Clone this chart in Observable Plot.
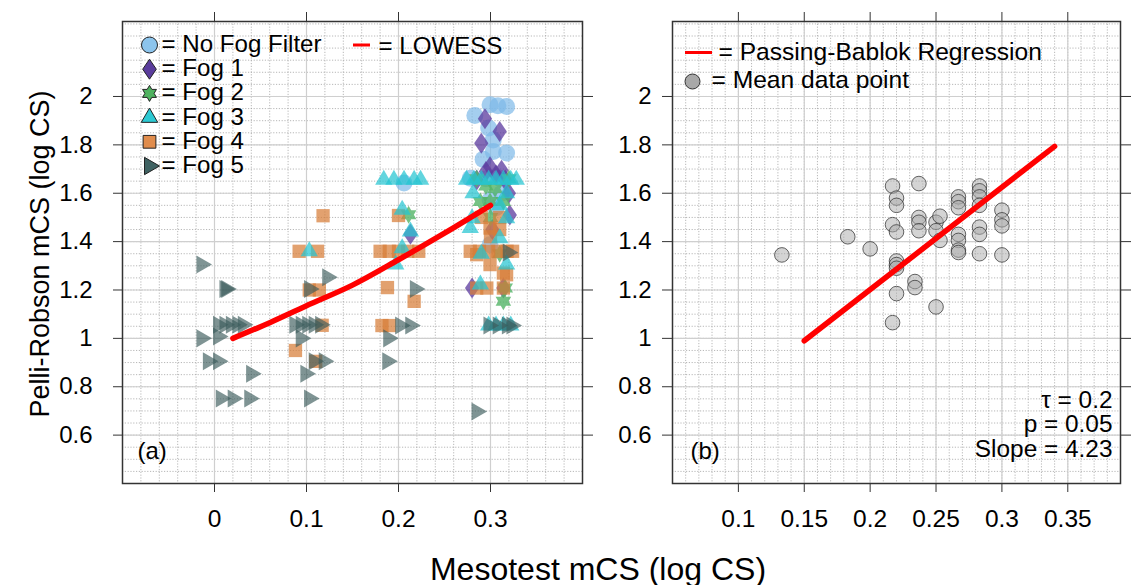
<!DOCTYPE html>
<html>
<head>
<meta charset="utf-8">
<script src="https://cdn.jsdelivr.net/npm/d3@7"></script>
<script src="https://cdn.jsdelivr.net/npm/@observablehq/plot@0.6"></script>
<style>
  html, body { margin: 0; padding: 0; background: #fff; }
  #chart { position: relative; width: 1142px; height: 585px; font-family: 'Liberation Sans', Arial, Helvetica, sans-serif; }
  #chart svg { position: absolute; top: 0; }
  .title { position: absolute; color: #000; white-space: nowrap; }
</style>
</head>
<body>
<div id="chart"></div>
<script>
// ---------------- DATA ----------------
// Panel (a): [Mesotest mCS, Pelli-Robson mCS] per fog condition
const noFog = [[0.2995,1.966],[0.3175,1.959],[0.308,1.962],[0.283,1.921],[0.298,1.87],[0.303,1.82],[0.3175,1.766],
  [0.303,1.773],[0.292,1.74],[0.278,1.662],[0.31,1.662],[0.295,1.66],[0.2995,1.573],[0.306,1.54],[0.2995,1.387],[0.312,1.6],[0.206,1.642]];
const fog1 = [[0.294,1.908],[0.31,1.855],[0.29,1.807],[0.2995,1.71],[0.306,1.675],[0.295,1.69],[0.312,1.695],[0.213,1.43],
  [0.321,1.51],[0.28,1.208],[0.314,1.208],[0.32,1.6],[0.302,1.45],[0.285,1.655],[0.316,1.655]];
const fog2 = [[0.211,1.511],[0.2995,1.566],[0.289,1.566],[0.314,1.566],[0.314,1.153],[0.316,1.208],[0.305,1.62],
  [0.285,1.66],[0.32,1.66],[0.3,1.5],[0.31,1.35],[0.295,1.63]];
const fog3 = [[0.184,1.656],[0.195,1.656],[0.206,1.656],[0.217,1.656],[0.224,1.656],[0.204,1.532],[0.213,1.442],[0.204,1.373],
  [0.197,1.305],[0.103,1.36],[0.274,1.656],[0.282,1.656],[0.29,1.656],[0.298,1.656],[0.306,1.656],[0.314,1.656],[0.322,1.656],
  [0.328,1.656],[0.281,1.6],[0.3175,1.6],[0.28,1.497],[0.3175,1.497],[0.278,1.456],[0.31,1.414],[0.3175,1.305],[0.289,1.223],
  [0.298,1.053],[0.306,1.053],[0.314,1.053],[0.322,1.053],[0.31,1.55],[0.29,1.35]];
const fog4 = [[0.118,1.507],[0.092,1.36],[0.112,1.36],[0.103,1.2],[0.114,1.2],[0.117,1.054],[0.088,0.95],[0.11,0.905],
  [0.2,1.508],[0.18,1.36],[0.19,1.36],[0.2,1.36],[0.21,1.36],[0.222,1.36],[0.188,1.21],[0.217,1.153],[0.182,1.053],[0.19,1.053],
  [0.278,1.36],[0.288,1.36],[0.298,1.36],[0.308,1.36],[0.318,1.36],[0.324,1.36],[0.2995,1.456],[0.29,1.5],[0.31,1.5],
  [0.285,1.208],[0.296,1.208],[0.314,1.208],[0.2995,1.305],[0.314,1.27],[0.3175,1.263],[0.285,1.346],[0.3,1.42],[0.31,1.45]];
const fog5 = [[-0.014,1.305],[0.011,1.204],[0.013,1.204],[0.004,1.056],[0.011,1.056],[0.018,1.056],[0.025,1.056],[0.031,1.056],
  [-0.014,1.0],[0.004,1.008],[-0.007,0.905],[0.004,0.905],[0.04,0.854],[0.007,0.751],[0.02,0.751],[0.038,0.751],
  [0.1227,1.253],[0.103,1.204],[0.087,1.056],[0.094,1.056],[0.101,1.056],[0.108,1.056],[0.115,1.056],[0.094,1.0],
  [0.108,0.905],[0.119,0.905],[0.099,0.854],[0.103,0.751],
  [0.218,1.204],[0.202,1.053],[0.213,1.053],[0.189,1.0],[0.188,0.905],
  [0.285,0.698],[0.298,1.053],[0.308,1.053],[0.318,1.053],[0.323,1.053],[0.319,1.355]];
const lowessX = [0.02, 0.06, 0.1, 0.15, 0.2, 0.25, 0.3];
const lowessY = [1.0, 1.065, 1.135, 1.22, 1.325, 1.435, 1.55];

// Panel (b): mean data points
const meanX = [0.133,0.183,0.200,0.217,0.220,0.220,0.217,0.220,0.220,0.220,0.220,0.220,0.217,0.234,0.234,0.237,0.237,0.237,0.237,
  0.250,0.250,0.253,0.253,0.250,0.267,0.267,0.267,0.267,0.267,0.267,0.267,0.283,0.283,0.283,0.283,0.283,0.283,0.283,0.300,0.300,0.300,0.300];
const meanY = [1.345,1.42,1.37,1.63,1.58,1.55,1.47,1.44,1.32,1.305,1.29,1.185,1.065,1.235,1.21,1.64,1.50,1.48,1.445,
  1.48,1.445,1.505,1.405,1.13,1.585,1.565,1.54,1.43,1.405,1.365,1.355,1.63,1.61,1.585,1.55,1.46,1.43,1.35,1.53,1.49,1.465,1.345];
const pbX = [0.15, 0.34];
const pbY = [0.99, 1.794];

const xTicksA = [0, 0.1, 0.2, 0.3];
const xTicksB = [0.1, 0.15, 0.2, 0.25, 0.3, 0.35];
const yTicks = [0.6, 0.8, 1, 1.2, 1.4, 1.6, 1.8, 2];
const legendA = ["= No Fog Filter", "= Fog 1", "= Fog 2", "= Fog 3", "= Fog 4", "= Fog 5"];
const statsB = ["τ = 0.2", "p = 0.05", "Slope = 4.23"];

// ---------------- STYLE ----------------
const font = "'Liberation Sans', Arial, Helvetica, sans-serif";
const cols = ["#7db9e8", "#5b3a9e", "#52b466", "#26c5d1", "#d77d38", "#3a5a5a"];
const legCols = ["#8cc4ec", "#5a3c9c", "#4fb25f", "#2cc9d3", "#e08c4c", "#3f6262"];
const ops = [0.7, 0.75, 0.8, 0.72, 0.72, 0.65];
const legFont = 24.1;
const rowH = 24.2;

const S3 = Math.sqrt(3);
const rightTri = {draw(c, size){ const R = Math.sqrt(size/Math.PI); c.moveTo(R,0); c.lineTo(-R/2, -R*S3/2); c.lineTo(-R/2, R*S3/2); c.closePath(); }};
const upTri = {draw(c, size){ const R = Math.sqrt(size/Math.PI); c.moveTo(0,-R); c.lineTo(R*S3/2, R/2); c.lineTo(-R*S3/2, R/2); c.closePath(); }};
const diamond = {draw(c, size){ const R = Math.sqrt(size/Math.PI); c.moveTo(0,-R); c.lineTo(0.68*R,0); c.lineTo(0,R); c.lineTo(-0.68*R,0); c.closePath(); }};
const hexStar = {draw(c, size){ const R = Math.sqrt(size/Math.PI);
  for (let k = 0; k < 12; k++) { const a = -Math.PI/2 + k*Math.PI/6; const rr = k % 2 ? R/S3 : R;
    if (k === 0) c.moveTo(rr*Math.cos(a), rr*Math.sin(a)); else c.lineTo(rr*Math.cos(a), rr*Math.sin(a)); }
  c.closePath(); }};
const hLine = {draw(c, size){ const R = Math.sqrt(size/Math.PI); c.moveTo(-R,0); c.lineTo(R,0); }};

const syms = ["circle", diamond, hexStar, upTri, "square", rightTri];
const radii = [8.5, 10.5, 9, 10, 7.5, 10.4];
const legR = [8, 10, 8, 9.5, 7.2, 10];
const groups = [noFog, fog1, fog2, fog3, fog4, fog5];

function frameMarks(xMinor, xMajor, yMinor, yMajor) {
  return [
    Plot.gridX(xMinor, {stroke: "#9a9a9a", strokeOpacity: 0.7, strokeDasharray: "1.2,1.6", strokeWidth: 1}),
    Plot.gridY(yMinor, {stroke: "#9a9a9a", strokeOpacity: 0.7, strokeDasharray: "1.2,1.6", strokeWidth: 1}),
    Plot.gridX(xMajor, {stroke: "#cfcfcf", strokeOpacity: 1, strokeWidth: 1.2}),
    Plot.gridY(yMajor, {stroke: "#cfcfcf", strokeOpacity: 1, strokeWidth: 1.2})
  ];
}

const yMinor = d3.range(8, 47).map(i => i * 0.05);

// ---------------- PANEL A ----------------
const marksA = [...frameMarks(d3.range(-5, 21).map(i => i * 0.02), xTicksA, yMinor, yTicks)];
[0, 1, 2, 4, 3, 5].forEach(g => {
  marksA.push(Plot.dot(groups[g], {x: d => d[0], y: d => d[1], symbol: syms[g], r: radii[g],
    fill: cols[g], fillOpacity: ops[g], stroke: "none"}));
});
marksA.push(Plot.line(lowessX.map((x, i) => [x, lowessY[i]]), {x: d => d[0], y: d => d[1], stroke: "#ff0000", strokeWidth: 5.5, curve: "catmull-rom"}));
// legend
legendA.forEach((t, i) => {
  marksA.push(Plot.dot([t], {frameAnchor: "top-left", dx: 27, dy: 23.5 + i * rowH, symbol: syms[i], r: legR[i],
    fill: legCols[i], stroke: "#222", strokeWidth: 1}));
});
marksA.push(Plot.text([legendA.join("\n")], {text: d => d, frameAnchor: "top-left", dx: 39, dy: 25.5 - rowH / 2, textAnchor: "start",
  lineAnchor: "top", lineHeight: rowH / legFont, fontSize: legFont, fill: "#000"}));
marksA.push(Plot.dot(["LOWESS"], {frameAnchor: "top-left", dx: 239, dy: 23.5, symbol: hLine, r: 8.5, stroke: "#ff0000", strokeWidth: 3}));
marksA.push(Plot.text(["= LOWESS"], {text: d => d, frameAnchor: "top-left", dx: 256, dy: 25, textAnchor: "start", lineAnchor: "middle", fontSize: legFont, fill: "#000"}));
marksA.push(Plot.text(["(a)"], {text: d => d, frameAnchor: "bottom-left", dx: 15, dy: -32, textAnchor: "start", lineAnchor: "middle", fontSize: 24, fill: "#000"}));
marksA.push(
  Plot.frame({stroke: "#333", strokeWidth: 1.5}),
  Plot.axisX(xTicksA, {anchor: "bottom", tickSize: 9, tickPadding: 17, fontSize: 24.5, label: null, tickFormat: d => String(d), stroke: "#333"}),
  Plot.axisX(xTicksA, {anchor: "top", tickSize: 10, label: null, tickFormat: () => "", stroke: "#333"}),
  Plot.axisY(yTicks, {anchor: "left", tickSize: 9, tickPadding: 21, fontSize: 24, label: null, tickFormat: d => String(d), stroke: "#333"}),
  Plot.axisY(yTicks, {anchor: "right", tickSize: 10, label: null, tickFormat: () => "", stroke: "#333"})
);

const plotA = Plot.plot({
  width: 600, height: 585, marginLeft: 122, marginRight: 18, marginTop: 21, marginBottom: 102,
  x: {domain: [-0.1, 0.4]}, y: {domain: [0.4, 2.31]},
  style: {fontFamily: font, fontSize: "24px", color: "#000", background: "transparent", overflow: "visible"},
  marks: marksA
});

// ---------------- PANEL B ----------------
const marksB = [...frameMarks(d3.range(5, 40).map(i => i * 0.01), xTicksB, yMinor, yTicks)];
marksB.push(Plot.dot(meanX.map((x, i) => [x, meanY[i]]), {x: d => d[0], y: d => d[1], r: 7.3, fill: "#a9a9a9", fillOpacity: 0.5,
  stroke: "#333", strokeOpacity: 0.75, strokeWidth: 1}));
marksB.push(Plot.line(pbX.map((x, i) => [x, pbY[i]]), {x: d => d[0], y: d => d[1], stroke: "#ff0000", strokeWidth: 5.5}));
marksB.push(Plot.dot(["PB"], {frameAnchor: "top-left", dx: 26, dy: 31, symbol: hLine, r: 13.5, stroke: "#ff0000", strokeWidth: 3}));
marksB.push(Plot.text(["= Passing-Bablok Regression"], {text: d => d, frameAnchor: "top-left", dx: 46, dy: 31, textAnchor: "start", lineAnchor: "middle", fontSize: 24.6, fill: "#000"}));
marksB.push(Plot.dot(["mean"], {frameAnchor: "top-left", dx: 20, dy: 60, r: 7.5, fill: "#a8a8a8", stroke: "#333", strokeWidth: 1}));
marksB.push(Plot.text(["= Mean data point"], {text: d => d, frameAnchor: "top-left", dx: 39, dy: 59, textAnchor: "start", lineAnchor: "middle", fontSize: 24.6, fill: "#000"}));
marksB.push(Plot.text([statsB.join("\n")], {text: d => d, frameAnchor: "bottom-right", dx: -8, dy: -27, textAnchor: "end", lineAnchor: "bottom", lineHeight: 1.0, fontSize: 24.4, fill: "#000"}));
marksB.push(Plot.text(["(b)"], {text: d => d, frameAnchor: "bottom-left", dx: 18, dy: -32, textAnchor: "start", lineAnchor: "middle", fontSize: 24, fill: "#000"}));
marksB.push(
  Plot.frame({stroke: "#333", strokeWidth: 1.5}),
  Plot.axisX(xTicksB, {anchor: "bottom", tickSize: 9, tickPadding: 17, fontSize: 24.5, label: null, tickFormat: d => String(d), stroke: "#333"}),
  Plot.axisX(xTicksB, {anchor: "top", tickSize: 10, label: null, tickFormat: () => "", stroke: "#333"}),
  Plot.axisY(yTicks, {anchor: "left", tickSize: 10, tickPadding: 11, fontSize: 24, label: null, tickFormat: d => String(d), stroke: "#333"}),
  Plot.axisY(yTicks, {anchor: "right", tickSize: 10, label: null, tickFormat: () => "", stroke: "#333"})
);

const plotB = Plot.plot({
  width: 542, height: 585, marginLeft: 72, marginRight: 22, marginTop: 21, marginBottom: 102,
  x: {domain: [0.05, 0.39]}, y: {domain: [0.4, 2.31]},
  style: {fontFamily: font, fontSize: "24px", color: "#000", background: "transparent", overflow: "visible"},
  marks: marksB
});

const chart = document.getElementById("chart");
plotA.style.left = "0px";
plotB.style.left = "600px";
chart.appendChild(plotA);
chart.appendChild(plotB);

const yTitle = document.createElement("div");
yTitle.className = "title";
yTitle.textContent = "Pelli-Robson mCS (log CS)";
yTitle.style.fontSize = "27px";
yTitle.style.left = "40px"; yTitle.style.top = "254px";
yTitle.style.transform = "translate(-50%, -50%) rotate(-90deg)";
chart.appendChild(yTitle);

const xTitle = document.createElement("div");
xTitle.className = "title";
xTitle.textContent = "Mesotest mCS (log CS)";
xTitle.style.fontSize = "32px";
xTitle.style.left = "598px"; xTitle.style.top = "569px";
xTitle.style.transform = "translate(-50%, -50%)";
chart.appendChild(xTitle);
</script>
</body>
</html>
